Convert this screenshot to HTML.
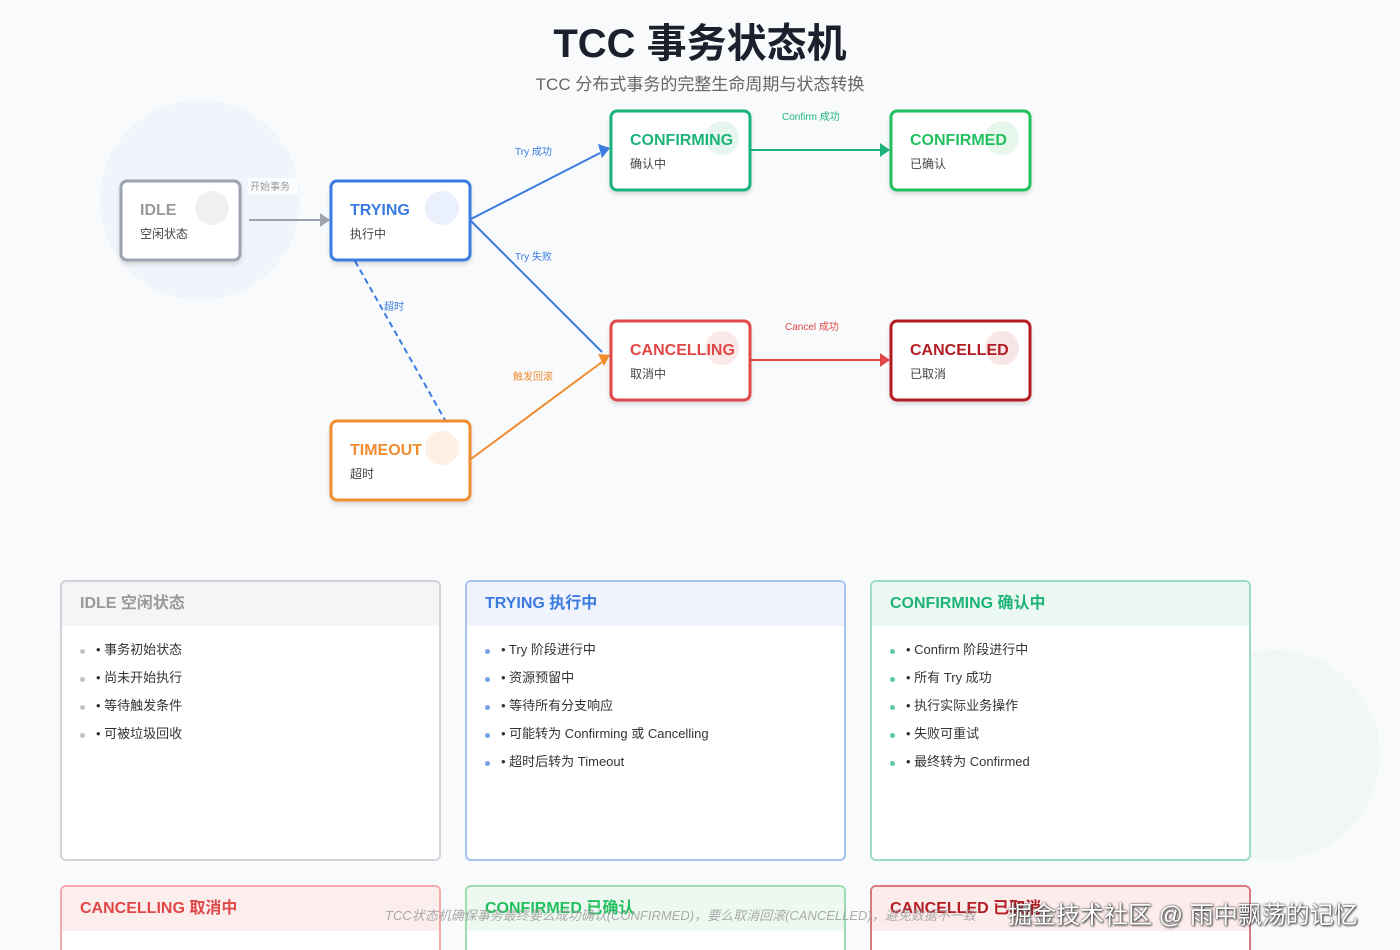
<!DOCTYPE html>
<html style="height:950px;overflow:hidden"><head><meta charset="utf-8"><style>
*{margin:0;padding:0;box-sizing:border-box}
body{width:1400px;height:950px;overflow:hidden;background:#f8fafc;font-family:"Liberation Sans","Noto Sans CJK SC",sans-serif;position:relative}
.t{position:absolute;left:0;width:1400px;text-align:center}
.card{position:absolute;width:381px;height:281px;border:2px solid;border-radius:6px;background:#fff;overflow:hidden}
.card h3{height:44px;line-height:44px;padding-left:18px;font-size:16px;font-weight:bold}
.card ul{list-style:none;padding:10px 0 0 18px}
.card li{font-size:13px;color:#333;height:28px;line-height:28px;position:relative;padding-left:16px}
.card li:before{content:"";position:absolute;left:0;top:13px;width:5px;height:5px;border-radius:50%;background:var(--c);opacity:.7}
.bc{height:65px;border-bottom:none;border-radius:6px 6px 0 0}
</style></head><body>
<div style="position:absolute;left:100px;top:100px;width:200px;height:200px;border-radius:50%;background:#f0f4fb"></div>
<div style="position:absolute;left:1170px;top:650px;width:210px;height:210px;border-radius:50%;background:#f1f7f5"></div>
<div class="t" style="top:11px;font-size:40px;font-weight:bold;color:#1a202c">TCC 事务状态机</div>
<div class="t" style="top:70px;font-size:17px;color:#666">TCC 分布式事务的完整生命周期与状态转换</div>
<svg width="1400" height="560" style="position:absolute;left:0;top:0" font-family="Liberation Sans,Noto Sans CJK SC,sans-serif">
<defs>
<filter id="s" x="-10%" y="-10%" width="130%" height="140%"><feDropShadow dx="0" dy="3" stdDeviation="2" flood-opacity=".12"/></filter>
</defs>
<g stroke-width="2" fill="none">
<line x1="249" y1="220" x2="320" y2="220" stroke="#9ca3af"/><polygon points="320,213 330,220 320,227" fill="#9ca3af" stroke="none"/>
<line x1="471" y1="219" x2="600" y2="153" stroke="#3b7be0"/><polygon points="598,144 610,148 602,158" fill="#3b7be0" stroke="none"/>
<line x1="471" y1="221" x2="602" y2="352" stroke="#3b7be0"/>
<line x1="471" y1="459" x2="602" y2="362" stroke="#f08c30"/><polygon points="598,354 610,355 604,366" fill="#f08c30" stroke="none"/>
<line x1="355" y1="261" x2="445" y2="420" stroke="#3b7be0" stroke-dasharray="6,4"/>
<line x1="751" y1="150" x2="880" y2="150" stroke="#1db37a"/><polygon points="880,143 890,150 880,157" fill="#1db37a" stroke="none"/>
<line x1="751" y1="360" x2="880" y2="360" stroke="#e04848"/><polygon points="880,353 890,360 880,367" fill="#e04848" stroke="none"/>
</g>
<g font-size="10">
<rect x="248" y="178" width="50" height="16" fill="#fff" opacity=".8"/><text x="250" y="190" fill="#999">开始事务</text>
<text x="515" y="155" fill="#3b7be0">Try 成功</text>
<text x="515" y="260" fill="#3b7be0">Try 失败</text>
<text x="384" y="310" fill="#3b7be0">超时</text>
<text x="513" y="380" fill="#f08c30">触发回滚</text>
<text x="782" y="120" fill="#1db37a">Confirm 成功</text>
<text x="785" y="330" fill="#e04848">Cancel 成功</text>
</g>
<g filter="url(#s)" stroke-width="3" fill="#fff">
<rect x="121" y="181" width="119" height="79" rx="6" stroke="#9ca3af"/>
<rect x="331" y="181" width="139" height="79" rx="6" stroke="#3b7be0"/>
<rect x="611" y="111" width="139" height="79" rx="6" stroke="#1db37a"/>
<rect x="891" y="111" width="139" height="79" rx="6" stroke="#22c05f"/>
<rect x="611" y="321" width="139" height="79" rx="6" stroke="#e04848"/>
<rect x="891" y="321" width="139" height="79" rx="6" stroke="#b31d24"/>
<rect x="331" y="421" width="139" height="79" rx="6" stroke="#f08c30"/>
</g>
<circle cx="212" cy="208" r="17" fill="#f0f0f2"/><circle cx="442" cy="208" r="17" fill="#eaf0fc"/>
<circle cx="722" cy="138" r="17" fill="#e6f6ee"/><circle cx="1002" cy="138" r="17" fill="#e6f6ea"/>
<circle cx="722" cy="348" r="17" fill="#fbe9e9"/><circle cx="1002" cy="348" r="17" fill="#f8e6e6"/>
<circle cx="442" cy="448" r="17" fill="#fdf0e4"/>
<g font-weight="bold" font-size="16">
<text x="140" y="215" fill="#999">IDLE</text><text x="350" y="215" fill="#3b7be0">TRYING</text>
<text x="630" y="145" fill="#1db37a">CONFIRMING</text><text x="910" y="145" fill="#22c05f">CONFIRMED</text>
<text x="630" y="355" fill="#e04848">CANCELLING</text><text x="910" y="355" fill="#b31d24">CANCELLED</text>
<text x="350" y="455" fill="#f08c30">TIMEOUT</text></g>
<g font-size="12" fill="#444">
<text x="140" y="238">空闲状态</text><text x="350" y="238">执行中</text><text x="630" y="168">确认中</text><text x="910" y="168">已确认</text>
<text x="630" y="378">取消中</text><text x="910" y="378">已取消</text><text x="350" y="478">超时</text></g>
</svg>
<div class="card" style="left:60px;top:580px;border-color:#d0d3d8;--c:#aaa"><h3 style="background:#f4f5f7;color:#999">IDLE 空闲状态</h3><ul><li>• 事务初始状态</li><li>• 尚未开始执行</li><li>• 等待触发条件</li><li>• 可被垃圾回收</li></ul></div>
<div class="card" style="left:465px;top:580px;border-color:#a9c3f0;--c:#3b7be0"><h3 style="background:#eef3fd;color:#3b7be0">TRYING 执行中</h3><ul><li>• Try 阶段进行中</li><li>• 资源预留中</li><li>• 等待所有分支响应</li><li>• 可能转为 Confirming 或 Cancelling</li><li>• 超时后转为 Timeout</li></ul></div>
<div class="card" style="left:870px;top:580px;border-color:#9cdcc0;--c:#1db37a"><h3 style="background:#ecf9f3;color:#1db37a">CONFIRMING 确认中</h3><ul><li>• Confirm 阶段进行中</li><li>• 所有 Try 成功</li><li>• 执行实际业务操作</li><li>• 失败可重试</li><li>• 最终转为 Confirmed</li></ul></div>
<div class="card bc" style="left:60px;top:885px;border-color:#f4aaaa"><h3 style="background:#fdeeee;color:#e04848">CANCELLING 取消中</h3></div>
<div class="card bc" style="left:465px;top:885px;border-color:#9fdcb0"><h3 style="background:#edf9f0;color:#22c05f">CONFIRMED 已确认</h3></div>
<div class="card bc" style="left:870px;top:885px;border-color:#d77a7e"><h3 style="background:#fcecec;color:#b31d24">CANCELLED 已取消</h3></div>
<div style="position:absolute;left:385px;top:905px;font-size:13px;font-style:italic;color:#999;opacity:.8;white-space:nowrap">TCC状态机确保事务最终要么成功确认(CONFIRMED)，要么取消回滚(CANCELLED)，避免数据不一致</div>
<div style="position:absolute;left:1008px;top:895px;font-size:24px;color:#fff;text-shadow:0 0 2px #333,1px 1px 2px #333;white-space:nowrap">掘金技术社区 @ 雨中飘荡的记忆</div>
</body></html>
